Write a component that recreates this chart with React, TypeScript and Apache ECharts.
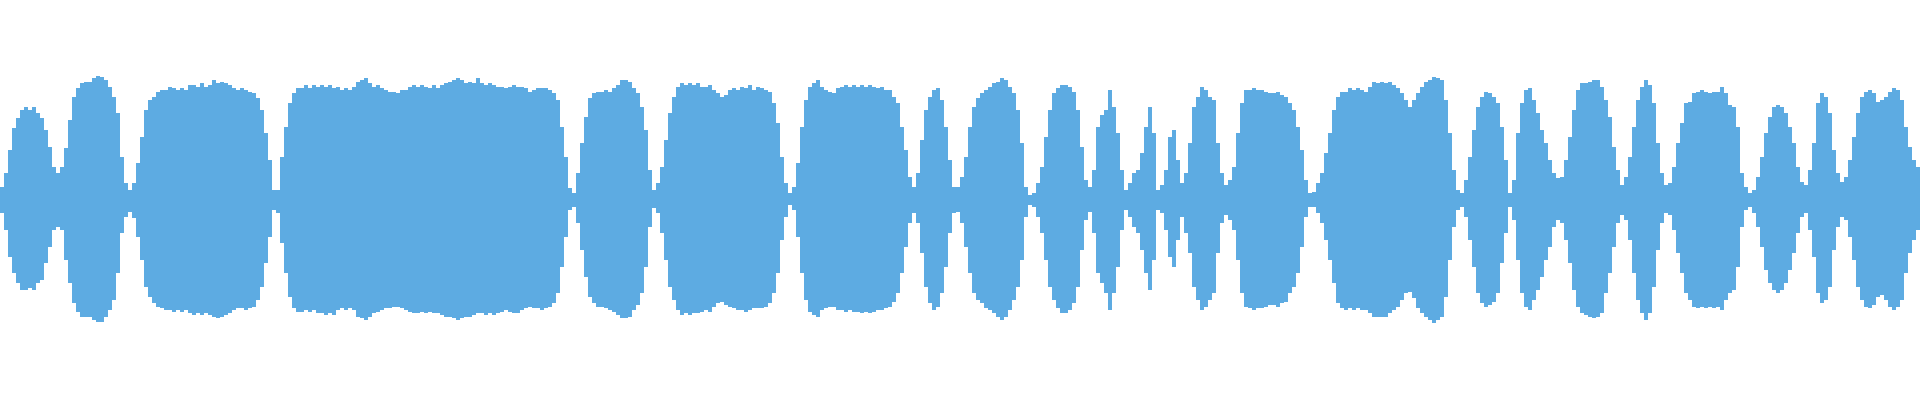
import React, { useEffect, useRef } from "react";
import * as echarts from "echarts";

// Upper envelope of the waveform, one value per 4px column (amplitude units, 0..200)
const UPPER: number[] = [
  13, 27, 50, 72, 82, 90, 93, 90, 93, 87, 82, 70, 53, 33, 27, 33, 52, 80, 103, 112,
  117, 118, 118, 122, 124, 123, 120, 113, 103, 87, 43, 17, 10, 17, 37, 63, 90, 100, 103, 108,
  110, 110, 113, 112, 110, 112, 110, 115, 115, 113, 117, 113, 115, 120, 117, 118, 117, 115, 112, 110,
  112, 110, 108, 107, 102, 90, 67, 40, 10, 10, 43, 73, 97, 107, 112, 112, 115, 112, 115, 113,
  115, 113, 115, 112, 113, 110, 112, 110, 113, 118, 120, 122, 117, 113, 115, 112, 110, 108, 108, 107,
  110, 110, 113, 115, 113, 115, 113, 112, 115, 112, 115, 117, 118, 120, 122, 120, 117, 118, 117, 122,
  117, 115, 117, 115, 113, 113, 112, 113, 115, 113, 113, 112, 108, 110, 112, 112, 112, 110, 107, 100,
  73, 43, 12, 7, 27, 57, 83, 102, 107, 108, 108, 110, 108, 112, 115, 120, 120, 118, 112, 107,
  93, 70, 30, 10, 17, 33, 60, 87, 103, 113, 117, 115, 117, 115, 117, 113, 113, 115, 110, 107,
  103, 105, 110, 112, 110, 113, 112, 115, 110, 113, 112, 110, 108, 97, 77, 43, 17, 7, 13, 37,
  73, 100, 113, 117, 120, 113, 110, 108, 107, 112, 113, 115, 113, 115, 113, 115, 113, 115, 113, 112,
  113, 110, 110, 103, 97, 73, 50, 23, 13, 27, 60, 90, 103, 110, 112, 100, 73, 40, 13, 13,
  23, 43, 73, 93, 102, 107, 110, 113, 117, 118, 122, 120, 113, 107, 90, 57, 13, 5, 7, 17,
  33, 63, 90, 107, 112, 115, 115, 113, 108, 90, 53, 20, 13, 30, 73, 85, 90, 110, 93, 67,
  30, 10, 17, 27, 30, 47, 73, 93, 67, 10, 15, 30, 63, 70, 40, 17, 27, 57, 93, 103,
  113, 110, 103, 100, 57, 27, 15, 20, 33, 67, 97, 110, 110, 112, 110, 110, 108, 107, 107, 108,
  105, 103, 97, 90, 73, 50, 20, 7, 8, 17, 27, 47, 67, 90, 103, 108, 108, 112, 110, 112,
  110, 108, 113, 118, 117, 118, 117, 118, 115, 112, 107, 100, 93, 100, 107, 113, 118, 120, 123, 122,
  120, 100, 67, 30, 10, 7, 20, 43, 70, 93, 103, 108, 107, 103, 97, 73, 40, 7, 20, 67,
  97, 110, 112, 100, 87, 70, 57, 40, 27, 22, 23, 40, 63, 90, 110, 117, 117, 118, 120, 120,
  113, 100, 83, 53, 30, 15, 23, 43, 73, 100, 113, 120, 115, 97, 57, 27, 15, 17, 33, 57,
  77, 97, 98, 107, 108, 110, 108, 107, 108, 108, 113, 107, 95, 93, 73, 27, 13, 7, 10, 23,
  43, 67, 83, 93, 95, 93, 87, 73, 57, 33, 18, 15, 30, 57, 97, 107, 103, 87, 50, 27,
  18, 23, 40, 63, 87, 103, 108, 110, 107, 98, 100, 103, 108, 112, 110, 100, 73, 53, 40, 33,
];

// Lower envelope of the waveform (depth below the centre line), same columns
const LOWER: number[] = [
  13, 30, 57, 73, 83, 90, 90, 88, 90, 83, 80, 63, 47, 30, 27, 30, 60, 83, 103, 112,
  117, 117, 117, 120, 122, 122, 117, 110, 100, 73, 33, 17, 12, 18, 37, 60, 87, 97, 103, 107,
  108, 110, 110, 112, 110, 112, 110, 113, 115, 113, 115, 113, 115, 117, 118, 117, 115, 113, 110, 108,
  108, 110, 108, 107, 100, 87, 63, 37, 10, 13, 43, 73, 97, 108, 112, 112, 110, 112, 110, 113,
  113, 115, 113, 115, 110, 108, 110, 108, 110, 117, 118, 120, 117, 113, 112, 110, 108, 108, 107, 107,
  108, 110, 112, 113, 113, 112, 113, 112, 113, 113, 115, 117, 117, 118, 120, 118, 117, 117, 115, 113,
  113, 115, 113, 115, 113, 112, 110, 112, 113, 113, 110, 108, 107, 108, 108, 110, 108, 107, 103, 93,
  67, 37, 10, 7, 23, 50, 77, 97, 103, 107, 107, 108, 110, 112, 115, 118, 118, 117, 110, 105,
  93, 67, 27, 8, 13, 33, 60, 87, 100, 110, 115, 113, 115, 113, 113, 112, 110, 112, 107, 103,
  102, 105, 107, 108, 110, 110, 112, 110, 108, 108, 108, 107, 103, 93, 73, 40, 17, 5, 10, 37,
  73, 100, 112, 115, 117, 110, 108, 107, 107, 110, 110, 112, 110, 112, 112, 113, 112, 113, 112, 110,
  110, 108, 107, 102, 93, 73, 47, 23, 13, 23, 53, 87, 103, 110, 107, 93, 67, 33, 13, 12,
  23, 47, 73, 93, 100, 103, 108, 110, 113, 117, 120, 117, 110, 100, 87, 60, 17, 5, 7, 17,
  33, 60, 87, 100, 108, 113, 113, 110, 103, 87, 50, 20, 12, 33, 73, 83, 93, 110, 93, 67,
  30, 10, 17, 27, 33, 50, 73, 90, 60, 10, 13, 30, 57, 67, 40, 17, 33, 53, 87, 100,
  110, 107, 100, 93, 53, 23, 15, 20, 30, 60, 93, 107, 108, 110, 108, 108, 107, 105, 105, 107,
  103, 102, 93, 87, 73, 47, 17, 7, 7, 13, 23, 40, 60, 83, 103, 108, 110, 108, 110, 108,
  110, 110, 113, 117, 117, 117, 117, 113, 110, 107, 100, 93, 92, 98, 108, 113, 117, 120, 123, 120,
  117, 97, 60, 27, 10, 7, 17, 40, 67, 93, 103, 107, 105, 102, 93, 63, 33, 7, 20, 60,
  93, 107, 110, 100, 90, 77, 60, 47, 27, 20, 23, 40, 63, 90, 107, 113, 115, 117, 118, 117,
  113, 93, 73, 47, 23, 15, 20, 40, 73, 100, 113, 120, 113, 87, 50, 23, 13, 15, 30, 53,
  73, 93, 100, 107, 108, 107, 108, 107, 108, 107, 110, 100, 93, 90, 67, 27, 10, 7, 13, 27,
  47, 70, 83, 90, 93, 90, 83, 70, 53, 33, 17, 13, 30, 57, 93, 103, 100, 87, 50, 27,
  17, 20, 37, 60, 87, 100, 107, 108, 105, 97, 95, 100, 107, 110, 107, 100, 73, 53, 40, 30,
];

const SAMPLES: string[] = UPPER.map((_, i) => String(i));
const NEG_LOWER: number[] = LOWER.map((v) => -v);

const WAVE_COLOR = "#5DABE2";

export default function App() {
  const ref = useRef<HTMLDivElement>(null);

  useEffect(() => {
    if (!ref.current) return;
    const chart = echarts.init(ref.current, null, { renderer: "svg" });
    chart.setOption({
      animation: false,
      grid: { left: 0, right: 0, top: 0, bottom: 0 },
      tooltip: { show: false },
      xAxis: {
        type: "category",
        data: SAMPLES,
        show: false,
        boundaryGap: true,
      },
      yAxis: {
        type: "value",
        min: -200,
        max: 200,
        show: false,
      },
      series: [
        {
          type: "bar",
          stack: "wave",
          data: UPPER,
          barCategoryGap: "0%",
          barGap: "0%",
          silent: true,
          itemStyle: { color: WAVE_COLOR },
        },
        {
          type: "bar",
          stack: "wave",
          data: NEG_LOWER,
          barCategoryGap: "0%",
          barGap: "0%",
          silent: true,
          itemStyle: { color: WAVE_COLOR },
        },
      ],
    });
    return () => chart.dispose();
  }, []);

  return (
    <div
      ref={ref}
      style={{ position: "absolute", left: 0, top: 0, width: 1920, height: 400 }}
    />
  );
}
